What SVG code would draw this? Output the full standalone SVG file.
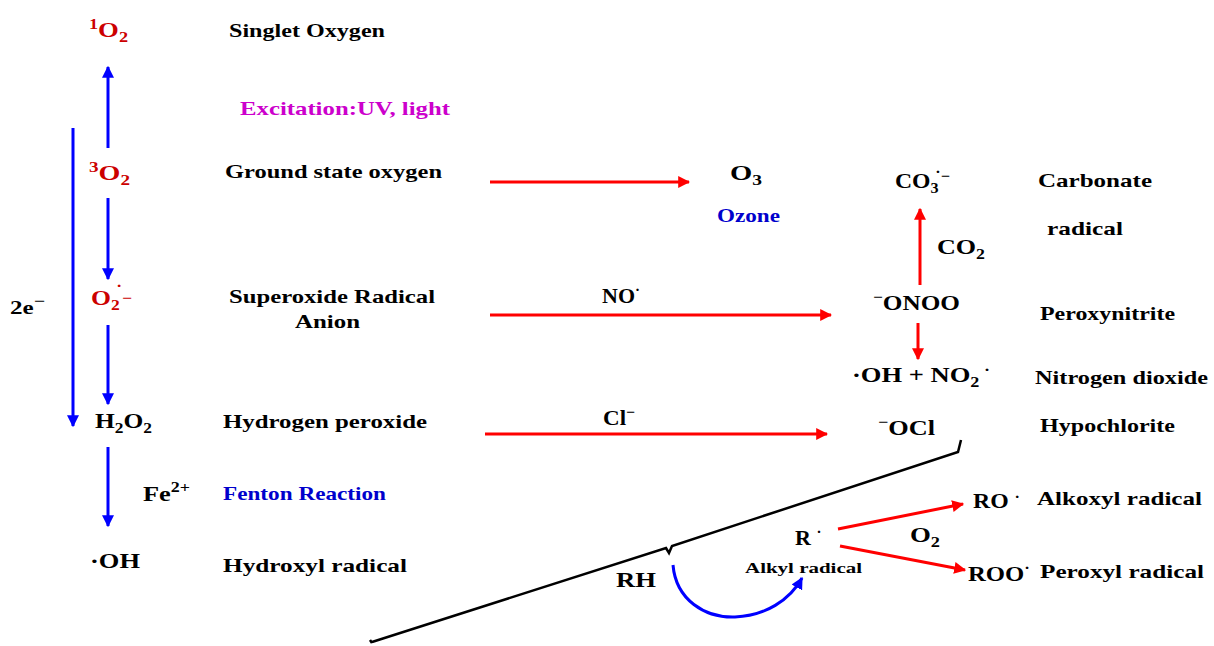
<svg xmlns="http://www.w3.org/2000/svg" width="1214" height="646" viewBox="0 0 1214 646">
<defs>
<marker id="hb" viewBox="0 0 10 10" refX="9" refY="5" markerWidth="4" markerHeight="4" orient="auto" markerUnits="strokeWidth"><path d="M0,0 L10,5 L0,10 z" fill="#0000ff"/></marker>
<marker id="hr" viewBox="0 0 10 10" refX="9" refY="5" markerWidth="4" markerHeight="4" orient="auto" markerUnits="strokeWidth"><path d="M0,0 L10,5 L0,10 z" fill="#ff0000"/></marker>
</defs>
<style>
text{font-family:"Liberation Serif","Times New Roman",serif;font-weight:bold;font-size:19px;fill:#000}
.f{font-size:22px}
.red{fill:#cc0000}
.mag{fill:#cc00cc}
.blue{fill:#0000cc}
.sm{font-size:14px}
.sub{font-size:15px}
.b{stroke:#0000ff;stroke-width:3;fill:none;marker-end:url(#hb)}
.r{stroke:#ff0000;stroke-width:3;fill:none;marker-end:url(#hr)}
</style>
<rect width="1214" height="646" fill="#fff"/>
<g id="connectors">
<line class="b" x1="108" y1="148" x2="108" y2="67"/>
<line class="b" x1="73" y1="128" x2="73" y2="426"/>
<line class="b" x1="108" y1="198" x2="108" y2="279"/>
<line class="b" x1="108" y1="325" x2="108" y2="404"/>
<line class="b" x1="108" y1="447" x2="108" y2="526"/>
<line class="r" x1="490" y1="182" x2="689" y2="182"/>
<line class="r" x1="490" y1="315" x2="831" y2="315"/>
<line class="r" x1="485" y1="434" x2="827" y2="434"/>
<line class="r" x1="920" y1="285" x2="920" y2="209"/>
<line class="r" x1="918" y1="323" x2="918" y2="359"/>
<line class="r" x1="838" y1="529" x2="963" y2="504"/>
<line class="r" x1="840" y1="546" x2="965" y2="570"/>
<path class="b" d="M673,565 C676,600 705,618 735,617 C765,616 790,600 802,578"/>
<path d="M372,643 L370,640 M372,642 L666,548 L669,553 L672,546 L958,452 L961,440" stroke="#000" stroke-width="2.5" fill="none"/>
</g>
<g id="n-1o2"><text class="f red" x="89" y="37" textLength="39" lengthAdjust="spacingAndGlyphs"><tspan class="sub" dy="-8">1</tspan><tspan dy="8">O</tspan><tspan class="sub" dy="5">2</tspan></text></g>
<g id="l-singlet"><text x="229" y="37" textLength="156" lengthAdjust="spacingAndGlyphs">Singlet Oxygen</text></g>
<g id="l-excitation"><text class="mag" x="240" y="115" textLength="210" lengthAdjust="spacingAndGlyphs">Excitation:UV, light</text></g>
<g id="n-3o2"><text class="f red" x="89" y="180" textLength="41" lengthAdjust="spacingAndGlyphs"><tspan class="sub" dy="-8">3</tspan><tspan dy="8">O</tspan><tspan class="sub" dy="5">2</tspan></text></g>
<g id="l-ground"><text x="225" y="178" textLength="217" lengthAdjust="spacingAndGlyphs">Ground state oxygen</text></g>
<g id="l-2e"><text x="10" y="314" textLength="35" lengthAdjust="spacingAndGlyphs">2e<tspan class="sub" dy="-8">−</tspan></text></g>
<g id="n-o2rad"><text class="f red" x="91" y="305" textLength="41" lengthAdjust="spacingAndGlyphs">O<tspan class="sub" dy="5">2</tspan><tspan class="sub" dx="-3" dy="-19">·</tspan><tspan class="sub" dy="12">−</tspan></text></g>
<g id="l-superoxide"><text x="229" y="303" textLength="206" lengthAdjust="spacingAndGlyphs">Superoxide Radical</text><text x="295" y="328" textLength="65" lengthAdjust="spacingAndGlyphs">Anion</text></g>
<g id="n-h2o2"><text class="f" x="95" y="428" textLength="57" lengthAdjust="spacingAndGlyphs">H<tspan class="sub" dy="5">2</tspan><tspan dy="-5">O</tspan><tspan class="sub" dy="5">2</tspan></text></g>
<g id="l-h2o2"><text x="223" y="428" textLength="204" lengthAdjust="spacingAndGlyphs">Hydrogen peroxide</text></g>
<g id="l-fe"><text class="f" x="143" y="501" textLength="47" lengthAdjust="spacingAndGlyphs">Fe<tspan class="sub" dy="-9">2+</tspan></text></g>
<g id="l-fenton"><text class="blue" x="223" y="500" textLength="163" lengthAdjust="spacingAndGlyphs">Fenton Reaction</text></g>
<g id="n-oh"><text class="f" x="90" y="568" textLength="50" lengthAdjust="spacingAndGlyphs">·OH</text></g>
<g id="l-hydroxyl"><text x="223" y="572" textLength="184" lengthAdjust="spacingAndGlyphs">Hydroxyl radical</text></g>
<g id="n-o3"><text class="f" x="730" y="180" textLength="32" lengthAdjust="spacingAndGlyphs">O<tspan class="sub" dy="5">3</tspan></text></g>
<g id="l-ozone"><text class="blue" x="717" y="222" textLength="63" lengthAdjust="spacingAndGlyphs">Ozone</text></g>
<g id="l-no"><text class="f" x="602" y="303" textLength="38" lengthAdjust="spacingAndGlyphs">NO<tspan class="sub" dy="-8">·</tspan></text></g>
<g id="l-cl"><text class="f" x="603" y="425" textLength="32" lengthAdjust="spacingAndGlyphs">Cl<tspan class="sub" dy="-8">−</tspan></text></g>
<g id="n-co3"><text class="f" x="895" y="188" textLength="55" lengthAdjust="spacingAndGlyphs">CO<tspan class="sub" dy="5">3</tspan><tspan class="sub" dx="-3" dy="-16">·</tspan><tspan class="sub" dy="4">−</tspan></text></g>
<g id="l-carbonate"><text x="1038" y="187" textLength="114" lengthAdjust="spacingAndGlyphs">Carbonate</text><text x="1047" y="235" textLength="76" lengthAdjust="spacingAndGlyphs">radical</text></g>
<g id="l-co2"><text class="f" x="937" y="254" textLength="48" lengthAdjust="spacingAndGlyphs">CO<tspan class="sub" dy="5">2</tspan></text></g>
<g id="n-onoo"><text class="f" x="873" y="310" textLength="87" lengthAdjust="spacingAndGlyphs"><tspan class="sub" dy="-8">−</tspan><tspan dy="8">ONOO</tspan></text></g>
<g id="l-peroxynitrite"><text x="1040" y="320" textLength="135" lengthAdjust="spacingAndGlyphs">Peroxynitrite</text></g>
<g id="n-ohno2"><text class="f" x="852" y="382" textLength="138" lengthAdjust="spacingAndGlyphs">·OH  +  NO<tspan class="sub" dy="5">2</tspan><tspan class="sub" dy="-12"> ·</tspan></text></g>
<g id="l-no2"><text x="1035" y="384" textLength="173" lengthAdjust="spacingAndGlyphs">Nitrogen dioxide</text></g>
<g id="n-ocl"><text class="f" x="878" y="435" textLength="57" lengthAdjust="spacingAndGlyphs"><tspan class="sub" dy="-8">−</tspan><tspan dy="8">OCl</tspan></text></g>
<g id="l-hypochlorite"><text x="1040" y="432" textLength="135" lengthAdjust="spacingAndGlyphs">Hypochlorite</text></g>
<g id="n-rh"><text class="f" x="616" y="587" textLength="40" lengthAdjust="spacingAndGlyphs">RH</text></g>
<g id="n-r"><text class="f" x="795" y="545">R <tspan class="sub" dy="-8">·</tspan></text></g>
<g id="l-alkyl"><text class="sm" x="745" y="573" textLength="117" lengthAdjust="spacingAndGlyphs">Alkyl radical</text></g>
<g id="l-o2"><text class="f" x="910" y="542" textLength="30" lengthAdjust="spacingAndGlyphs">O<tspan class="sub" dy="5">2</tspan></text></g>
<g id="n-ro"><text class="f" x="973" y="508" textLength="47" lengthAdjust="spacingAndGlyphs">RO <tspan class="sub" dy="-6">·</tspan></text></g>
<g id="l-alkoxyl"><text x="1037" y="505" textLength="165" lengthAdjust="spacingAndGlyphs">Alkoxyl radical</text></g>
<g id="n-roo"><text class="f" x="968" y="581" textLength="62" lengthAdjust="spacingAndGlyphs">ROO<tspan class="sub" dy="-8">·</tspan></text></g>
<g id="l-peroxyl"><text x="1040" y="578" textLength="164" lengthAdjust="spacingAndGlyphs">Peroxyl radical</text></g>
</svg>
